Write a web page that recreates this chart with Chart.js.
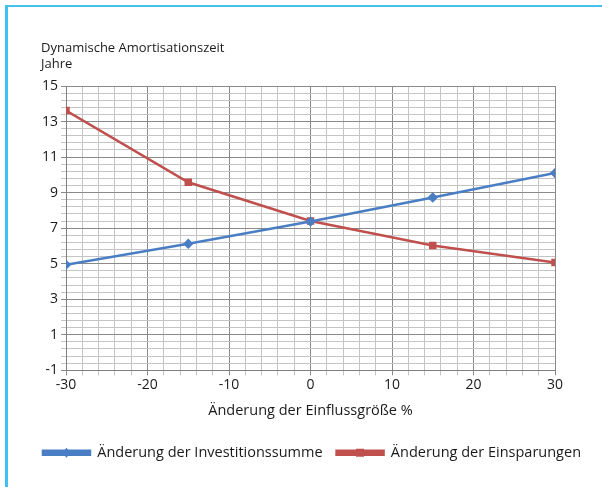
<!DOCTYPE html>
<html>
<head>
<meta charset="utf-8">
<script src="https://cdn.jsdelivr.net/npm/chart.js@4/dist/chart.umd.min.js"></script>
<style>
  html, body { margin: 0; padding: 0; background: #fff; }
  #wrap { position: relative; width: 602px; height: 487px; }
  #frame { position: absolute; left: 5px; top: 5px; right: -10px; bottom: -10px;
           border-left: 3px solid #3fc1f3; border-top: 2px solid #3fc1f3; }
  canvas { position: absolute; left: 0; top: 0; }
</style>
</head>
<body>
<div id="wrap">
  <div id="frame"></div>
  <canvas id="my-chart" width="602" height="487"></canvas>
</div>
<script>
const changes = [-30, -15, 0, 15, 30];
const investmentYears = [4.94, 6.12, 7.37, 8.73, 10.1];
const savingsYears = [13.62, 9.58, 7.4, 6.02, 5.07];
const xLabels = [-30, -20, -10, 0, 10, 20, 30];
const yLabels = [-1, 1, 3, 5, 7, 9, 11, 13, 15];

const font = "'Open Sans', 'Noto Sans', sans-serif";
const nearly = (a, list) => list.some(v => Math.abs(v - a) < 1e-6);

// y axis caption in the top left corner, plus markers on the legend lines
const captionPlugin = {
  id: 'caption',
  afterDraw(chart) {
    const c = chart.ctx;
    c.save();
    c.fillStyle = '#1a1a1a';
    c.font = '13px ' + font;
    c.textBaseline = 'alphabetic';
    c.fillText('Dynamische Amortisationszeit', 41, 52);
    c.fillText('Jahre', 41, 68);

    const legend = chart.legend;
    const boxW = legend.options.labels.boxWidth;
    legend.legendHitBoxes.forEach((box, i) => {
      const ds = chart.data.datasets[i];
      const cx = box.left + boxW / 2;
      const cy = box.top + box.height / 2;
      c.fillStyle = ds.borderColor;
      c.beginPath();
      if (ds.pointStyle === 'rectRot') {
        c.moveTo(cx, cy - 5); c.lineTo(cx + 4, cy); c.lineTo(cx, cy + 5); c.lineTo(cx - 4, cy);
      } else {
        c.rect(cx - 4, cy - 4, 8, 8);
      }
      c.closePath();
      c.fill();
    });
    c.restore();
  }
};

const ctx = document.getElementById('my-chart').getContext('2d');
const chart = new Chart(ctx, {
  type: 'line',
  data: {
    datasets: [
      {
        label: 'Änderung der Investitionssumme',
        data: changes.map((x, i) => ({ x: x, y: investmentYears[i] })),
        borderColor: '#4a7ec4',
        backgroundColor: '#4a7ec4',
        borderWidth: 2.5,
        pointStyle: 'rectRot',
        pointRadius: 3.5,
        tension: 0
      },
      {
        label: 'Änderung der Einsparungen',
        data: changes.map((x, i) => ({ x: x, y: savingsYears[i] })),
        borderColor: '#c0504d',
        backgroundColor: '#c0504d',
        borderWidth: 2.5,
        pointStyle: 'rect',
        pointRadius: 3.5,
        tension: 0
      }
    ]
  },
  options: {
    responsive: false,
    animation: false,
    layout: { padding: { left: 22, right: 0, top: 86, bottom: 17 } },
    plugins: {
      legend: {
        position: 'bottom',
        labels: {
          color: '#1a1a1a',
          font: { family: font, size: 14.5 },
          usePointStyle: false,
          boxWidth: 47,
          boxHeight: 4,
          padding: 14
        }
      },
      tooltip: { enabled: false }
    },
    scales: {
      x: {
        type: 'linear',
        min: -30,
        max: 30,
        border: { color: '#7f7f7f' },
        grid: {
          color: c => nearly(c.tick.value, xLabels) ? '#8a8a8a' : '#c4c4c4',
          lineWidth: 1,
          tickLength: 5
        },
        ticks: {
          stepSize: 2,
          autoSkip: false,
          maxRotation: 0,
          color: '#1a1a1a',
          font: { family: font, size: 14 },
          padding: 1,
          callback: v => nearly(v, xLabels) ? String(Math.round(v)) : ''
        },
        title: {
          display: true,
          text: 'Änderung der Einflussgröße %',
          color: '#1a1a1a',
          font: { family: font, size: 14.5 },
          padding: { top: 8, bottom: 12 }
        }
      },
      y: {
        min: -1,
        max: 15,
        afterFit: s => { s.width = 44; },
        border: { color: '#7f7f7f' },
        grid: {
          color: c => nearly(c.tick.value, yLabels) ? '#8a8a8a' : '#c4c4c4',
          lineWidth: 1,
          tickLength: 5
        },
        ticks: {
          stepSize: 0.4,
          autoSkip: false,
          color: '#1a1a1a',
          font: { family: font, size: 14 },
          padding: 3,
          callback: v => nearly(v, yLabels) ? String(Math.round(v)) : ''
        }
      },
      // empty strip that keeps the plot clear of the right edge
      side: {
        position: 'right',
        afterFit: s => { s.width = 47; },
        grid: { display: false },
        border: { display: false },
        ticks: { display: false }
      }
    }
  },
  plugins: [captionPlugin]
});
</script>
</body>
</html>
